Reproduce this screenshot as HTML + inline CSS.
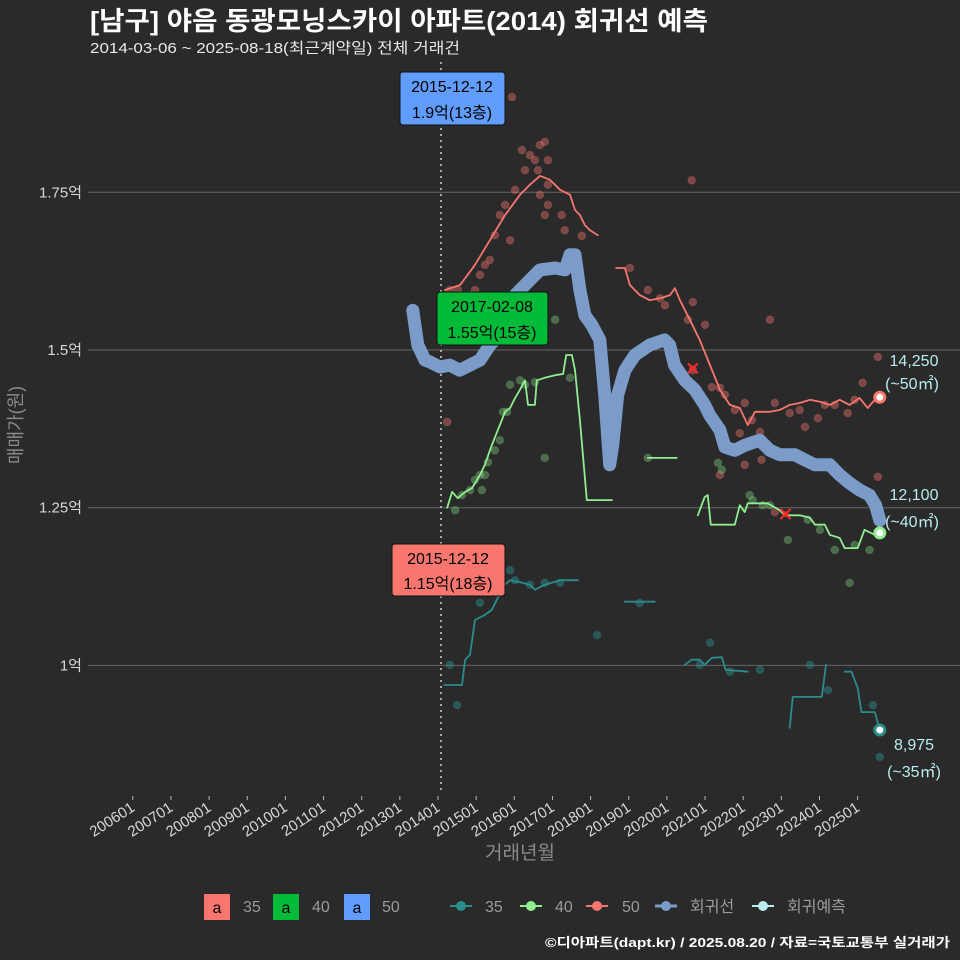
<!DOCTYPE html>
<html><head><meta charset="utf-8">
<style>
html,body{margin:0;padding:0;background:#2a2a2b;}
svg{display:block;font-family:"Liberation Sans","Noto Sans CJK KR",sans-serif;}
</style></head>
<body>
<svg id="chart" width="960" height="960" viewBox="0 0 960 960">
<rect x="0" y="0" width="960" height="960" fill="#2a2a2b"/>
<text x="90" y="30" fill="#ffffff" font-size="26" font-weight="bold" textLength="618" lengthAdjust="spacingAndGlyphs">[남구] 야음 동광모닝스카이 아파트(2014) 회귀선 예측</text>
<text x="90" y="53" fill="#e8e8e8" font-size="15" textLength="370" lengthAdjust="spacingAndGlyphs">2014-03-06 ~ 2025-08-18(최근계약일) 전체 거래건</text>
<g id="grid"></g>
<g id="yticks"></g>
<g id="xticks"></g>
<line x1="441" y1="62" x2="441" y2="790" stroke="#cfcfcf" stroke-width="1.5" stroke-dasharray="2,4"/>
<g id="points"></g>
<g id="lines"></g>
<g id="marks"></g>
<text transform="translate(22,425) rotate(-90)" text-anchor="middle" fill="#8a8a8a" font-size="18">매매가(원)</text>
<text x="520" y="859" text-anchor="middle" fill="#8a8a8a" font-size="19">거래년월</text>

<g>
<rect x="400" y="72" width="105" height="53" rx="3" fill="#619cff" stroke="#111" stroke-width="1"/>
<text x="452" y="92" text-anchor="middle" font-size="16" fill="#000">2015-12-12</text>
<text x="452" y="118" text-anchor="middle" font-size="16" fill="#000">1.9억(13층)</text>
</g>
<g>
<rect x="437" y="292" width="111" height="53" rx="3" fill="#00ba38" stroke="#111" stroke-width="1"/>
<text x="492" y="312" text-anchor="middle" font-size="16" fill="#000">2017-02-08</text>
<text x="492" y="338" text-anchor="middle" font-size="16" fill="#000">1.55억(15층)</text>
</g>
<g>
<rect x="392" y="544" width="113" height="52" rx="3" fill="#f8766d" stroke="#111" stroke-width="1"/>
<text x="448" y="564" text-anchor="middle" font-size="16" fill="#000">2015-12-12</text>
<text x="448" y="589" text-anchor="middle" font-size="16" fill="#000">1.15억(18층)</text>
</g>

<g fill="#b8ecef" font-size="16" text-anchor="middle">
<text x="914" y="366">14,250</text>
<text x="912" y="389">(~50㎡)</text>
<text x="914" y="500">12,100</text>
<text x="912" y="527">(~40㎡)</text>
<text x="914" y="750">8,975</text>
<text x="914" y="777">(~35㎡)</text>
</g>

<g font-size="16" fill="#9a9a9a">
<rect x="204" y="894" width="26" height="26" fill="#f8766d"/>
<text x="217" y="913" text-anchor="middle" fill="#000">a</text>
<text x="243" y="912">35</text>
<rect x="273" y="894" width="26" height="26" fill="#00ba38"/>
<text x="286" y="913" text-anchor="middle" fill="#000">a</text>
<text x="312" y="912">40</text>
<rect x="344" y="894" width="26" height="26" fill="#619cff"/>
<text x="357" y="913" text-anchor="middle" fill="#000">a</text>
<text x="382" y="912">50</text>
<g><line x1="450" y1="906" x2="472" y2="906" stroke="#2a8c8c" stroke-width="2"/><circle cx="461" cy="906" r="5" fill="#2a8c8c"/><text x="485" y="912">35</text></g>
<g><line x1="520" y1="906" x2="542" y2="906" stroke="#90ee90" stroke-width="2"/><circle cx="531" cy="906" r="5" fill="#90ee90"/><text x="555" y="912">40</text></g>
<g><line x1="586" y1="906" x2="608" y2="906" stroke="#f8766d" stroke-width="2"/><circle cx="597" cy="906" r="5" fill="#f8766d"/><text x="622" y="912">50</text></g>
<g><line x1="655" y1="906" x2="677" y2="906" stroke="#7b9bc9" stroke-width="3"/><circle cx="666" cy="906" r="5" fill="#7b9bc9"/><text x="690" y="912">회귀선</text></g>
<g><line x1="752" y1="906" x2="774" y2="906" stroke="#b8ecef" stroke-width="2"/><circle cx="763" cy="906" r="5" fill="#b8ecef"/><text x="787" y="912">회귀예측</text></g>
</g>
<text x="950" y="947" text-anchor="end" fill="#ffffff" font-size="13" font-weight="bold" textLength="405" lengthAdjust="spacingAndGlyphs">©디아파트(dapt.kr) / 2025.08.20 / 자료=국토교통부 실거래가</text>
</svg>
<script>
const yTicks = [1.0, 1.25, 1.5, 1.75];
const yTickLabels = ["1억", "1.25억", "1.5억", "1.75억"];
const xTickYears = [2006,2007,2008,2009,2010,2011,2012,2013,2014,2015,2016,2017,2018,2019,2020,2021,2022,2023,2024,2025];
const xTickLabels = ["200601","200701","200801","200901","201001","201101","201201","201301","201401","201501","201601","201701","201801","201901","202001","202101","202201","202301","202401","202501"];

const reg = [[2013.34,1.563],[2013.47,1.508],[2013.66,1.484],[2013.79,1.481],[2014.05,1.473],[2014.31,1.476],[2014.57,1.468],[2014.84,1.476],[2015.10,1.484],[2015.36,1.508],[2015.62,1.524],[2015.88,1.548],[2016.02,1.587],[2016.28,1.603],[2016.67,1.627],[2017.07,1.630],[2017.33,1.627],[2017.46,1.651],[2017.59,1.651],[2017.72,1.595],[2017.85,1.555],[2018.03,1.540],[2018.24,1.516],[2018.37,1.429],[2018.50,1.318],[2018.58,1.349],[2018.71,1.429],[2018.90,1.468],[2019.16,1.492],[2019.55,1.508],[2019.94,1.516],[2020.07,1.508],[2020.20,1.476],[2020.47,1.452],[2020.73,1.437],[2020.99,1.413],[2021.12,1.397],[2021.39,1.373],[2021.52,1.346],[2021.78,1.341],[2022.04,1.349],[2022.43,1.357],[2022.70,1.341],[2022.96,1.334],[2023.35,1.334],[2023.61,1.326],[2023.88,1.318],[2024.27,1.318],[2024.53,1.302],[2024.79,1.289],[2025.05,1.278],[2025.31,1.270],[2025.47,1.254],[2025.58,1.230]];

const line50a = [[2014.18,1.595],[2014.58,1.603],[2014.97,1.635],[2015.36,1.674],[2015.76,1.714],[2016.15,1.746],[2016.41,1.762],[2016.67,1.776],[2016.93,1.770],[2017.20,1.754],[2017.46,1.746],[2017.59,1.722],[2017.72,1.714],[2017.85,1.698],[2017.98,1.690],[2018.19,1.682]];
const line50b = [[2018.67,1.630],[2018.90,1.630],[2019.03,1.603],[2019.29,1.587],[2019.55,1.579],[2019.82,1.582],[2020.08,1.587],[2020.21,1.598],[2020.34,1.579],[2020.60,1.548],[2020.86,1.516],[2021.13,1.476],[2021.39,1.437],[2021.65,1.413],[2021.91,1.408],[2022.12,1.381],[2022.31,1.402],[2022.70,1.402],[2022.96,1.405],[2023.22,1.413],[2023.48,1.416],[2023.75,1.421],[2024.01,1.418],[2024.27,1.413],[2024.53,1.421],[2024.79,1.413],[2025.05,1.424],[2025.26,1.408],[2025.45,1.421],[2025.58,1.424]];
const line40a = [[2014.24,1.250],[2014.37,1.275],[2014.52,1.265],[2014.71,1.275],[2014.89,1.281],[2015.10,1.302],[2015.23,1.318],[2015.36,1.341],[2015.49,1.361],[2015.62,1.381],[2015.76,1.402],[2015.89,1.408],[2016.02,1.424],[2016.15,1.437],[2016.28,1.452],[2016.36,1.413],[2016.54,1.413],[2016.59,1.452],[2016.80,1.456],[2017.07,1.460],[2017.28,1.462],[2017.36,1.492],[2017.51,1.492],[2017.59,1.468],[2017.72,1.389],[2017.90,1.262],[2018.56,1.262]];
const line40b = [[2019.50,1.329],[2020.26,1.329]];
const line40c = [[2020.81,1.238],[2020.99,1.267],[2021.07,1.270],[2021.15,1.223],[2021.78,1.223],[2021.91,1.254],[2022.04,1.243],[2022.12,1.257],[2022.64,1.257],[2022.96,1.246],[2023.09,1.238],[2023.48,1.238],[2023.75,1.234],[2023.88,1.223],[2024.14,1.223],[2024.27,1.207],[2024.53,1.202],[2024.66,1.186],[2025.00,1.186],[2025.18,1.215],[2025.45,1.207],[2025.58,1.210]];
const line35a = [[2014.16,0.969],[2014.63,0.969],[2014.71,1.009],[2014.84,1.017],[2014.97,1.072],[2015.23,1.080],[2015.41,1.088],[2015.54,1.104],[2015.75,1.128],[2015.89,1.135],[2016.15,1.132],[2016.41,1.128],[2016.54,1.120],[2016.80,1.128],[2017.20,1.135],[2017.67,1.135]];
const line35b = [[2018.90,1.101],[2019.68,1.101]];
const line35c = [[2020.47,1.001],[2020.65,1.009],[2020.86,1.009],[2020.99,1.001],[2021.18,1.012],[2021.44,1.013],[2021.54,0.993],[2022.12,0.990]];
const line35d = [[2023.22,0.901],[2023.30,0.950],[2024.06,0.950],[2024.17,1.001]];
const line35e = [[2024.66,0.990],[2024.84,0.990],[2025.00,0.964],[2025.10,0.926],[2025.45,0.926],[2025.58,0.898]];

const pts50 = [[2015.94,1.901],[2016.28,1.785],[2016.20,1.817],[2016.41,1.809],[2016.54,1.801],[2016.67,1.825],[2016.80,1.830],[2016.88,1.801],[2016.62,1.785],[2016.02,1.754],[2015.76,1.730],[2015.62,1.714],[2015.49,1.682],[2015.89,1.674],[2015.36,1.643],[2015.23,1.635],[2015.10,1.619],[2014.84,1.587],[2014.71,1.579],[2014.58,1.563],[2014.45,1.540],[2014.24,1.386],[2014.31,1.595],[2014.52,1.595],[2014.97,1.595],[2016.88,1.762],[2016.88,1.730],[2016.80,1.714],[2017.24,1.714],[2017.32,1.690],[2016.67,1.746],[2017.77,1.681],[2019.03,1.630],[2019.50,1.595],[2019.82,1.582],[2019.95,1.571],[2020.55,1.548],[2020.68,1.576],[2021.00,1.540],[2022.70,1.548],[2020.68,1.468],[2021.18,1.441],[2021.39,1.440],[2021.52,1.429],[2021.78,1.405],[2022.04,1.416],[2022.23,1.389],[2021.91,1.368],[2022.04,1.318],[2022.44,1.370],[2022.83,1.416],[2023.22,1.400],[2023.48,1.405],[2023.62,1.378],[2023.96,1.392],[2024.14,1.413],[2024.40,1.413],[2024.74,1.400],[2024.92,1.421],[2025.13,1.448],[2025.53,1.489],[2025.53,1.299],[2021.39,1.302],[2022.48,1.326],[2022.83,1.243],[2020.65,1.769]];
const pts40 = [[2014.45,1.246],[2014.63,1.270],[2014.84,1.278],[2014.97,1.294],[2015.10,1.302],[2015.15,1.278],[2015.23,1.302],[2015.31,1.322],[2015.49,1.341],[2015.62,1.357],[2015.70,1.402],[2015.81,1.402],[2015.89,1.445],[2016.15,1.452],[2016.28,1.445],[2016.54,1.449],[2017.07,1.548],[2016.80,1.329],[2017.46,1.456],[2019.50,1.329],[2021.34,1.321],[2021.44,1.310],[2022.17,1.270],[2022.25,1.262],[2022.51,1.254],[2022.70,1.254],[2023.69,1.231],[2023.17,1.199],[2024.01,1.215],[2024.40,1.183],[2024.79,1.131],[2024.92,1.191],[2025.31,1.183]];
const pts35 = [[2014.31,1.001],[2014.50,0.937],[2015.10,1.099],[2015.23,1.120],[2015.89,1.151],[2016.02,1.135],[2016.41,1.128],[2016.80,1.131],[2017.20,1.131],[2018.17,1.048],[2019.29,1.099],[2020.86,1.001],[2021.13,1.036],[2021.65,0.990],[2022.44,0.993],[2023.75,1.001],[2024.22,0.961],[2025.40,0.937],[2025.58,0.855]];
const crossMarks = [[2020.68,1.471],[2023.11,1.240]];
const endPoints = [[2025.58,1.4250,"#f8766d"],[2025.58,1.2100,"#90ee90"],[2025.58,0.8975,"#2a8c8c"]];

const NS = "http://www.w3.org/2000/svg";
function xs(t){ return 132.8 + (t - 2006) * 38.15; }
function ys(v){ return 350 - (v - 1.5) * 630.8; }
function mk(tag, attrs, parent){ const e = document.createElementNS(NS, tag); for (const k in attrs) e.setAttribute(k, attrs[k]); parent.appendChild(e); return e; }

const grid = document.getElementById('grid');
const yt = document.getElementById('yticks');
yTicks.forEach((v, i) => {
  const l = mk('line', {x1: 88, x2: 960, y1: ys(v), y2: ys(v), stroke: '#666', 'stroke-width': 1}, grid);
  
  
  const t = mk('text', {x: 82, y: ys(v) + 5, 'text-anchor': 'end', fill: '#d8d8d8', 'font-size': 15}, yt);
  t.textContent = yTickLabels[i];
  
  
});
const xt = document.getElementById('xticks');
xTickYears.forEach((yr, i) => {
  const x = xs(yr);
  const tk = mk('line', {x1: x, x2: x, y1: 796, y2: 800, stroke: '#bbb', 'stroke-width': 1}, xt);
  
  
  const t = mk('text', {x: x + 3, y: 810, 'text-anchor': 'end', fill: '#d8d8d8', 'font-size': 15, transform: 'rotate(-33 ' + (x + 3) + ' 810)'}, xt);
  t.textContent = xTickLabels[i];
  
  
});

const pg = document.getElementById('points');
function drawPts(arr, col, name){
  arr.forEach(p => {
    const c = mk('circle', {cx: xs(p[0]), cy: ys(p[1]), r: 3.8, fill: col, 'fill-opacity': 0.4, stroke: col, 'stroke-opacity': 0.25}, pg);
    
    
  });
}
drawPts(pts50, '#f8766d', 'point-50');
drawPts(pts40, '#7ccd7c', 'point-40');
drawPts(pts35, '#2a9c9c', 'point-35');

const lg = document.getElementById('lines');
function drawLine(arr, col, w, name){
  const d = arr.map((p, i) => (i ? 'L' : 'M') + xs(p[0]).toFixed(1) + ',' + ys(p[1]).toFixed(1)).join(' ');
  const e = mk('path', {d: d, fill: 'none', stroke: col, 'stroke-width': w, 'stroke-linejoin': 'round', 'stroke-linecap': 'round'}, lg);
  
  
}
drawLine(reg, '#7b9bc9', 13, 'regression-line');
drawLine(line50a, '#f8766d', 1.8, 'line-50');
drawLine(line50b, '#f8766d', 1.8, 'line-50');
drawLine(line40a, '#90ee90', 1.8, 'line-40');
drawLine(line40b, '#90ee90', 1.8, 'line-40');
drawLine(line40c, '#90ee90', 1.8, 'line-40');
[line35a, line35b, line35c, line35d, line35e].forEach(a => drawLine(a, '#2a8c8c', 1.8, 'line-35'));

const mg = document.getElementById('marks');
crossMarks.forEach(p => {
  const x = xs(p[0]), y = ys(p[1]);
  const g = mk('path', {d: `M${x-5},${y-5}L${x+5},${y+5}M${x-5},${y+5}L${x+5},${y-5}`, stroke: '#ff2a2a', 'stroke-width': 2}, mg);
  
  
  const c = mk('circle', {cx: x, cy: y, r: 3, fill: '#ff2a2a', 'fill-opacity': 0.6}, mg);
  
  
});
endPoints.forEach(p => {
  const c = mk('circle', {cx: xs(p[0]), cy: ys(p[1]), r: 5, fill: '#ffffff', stroke: p[2], 'stroke-width': 3}, mg);
  
  
});
</script>
</body></html>
